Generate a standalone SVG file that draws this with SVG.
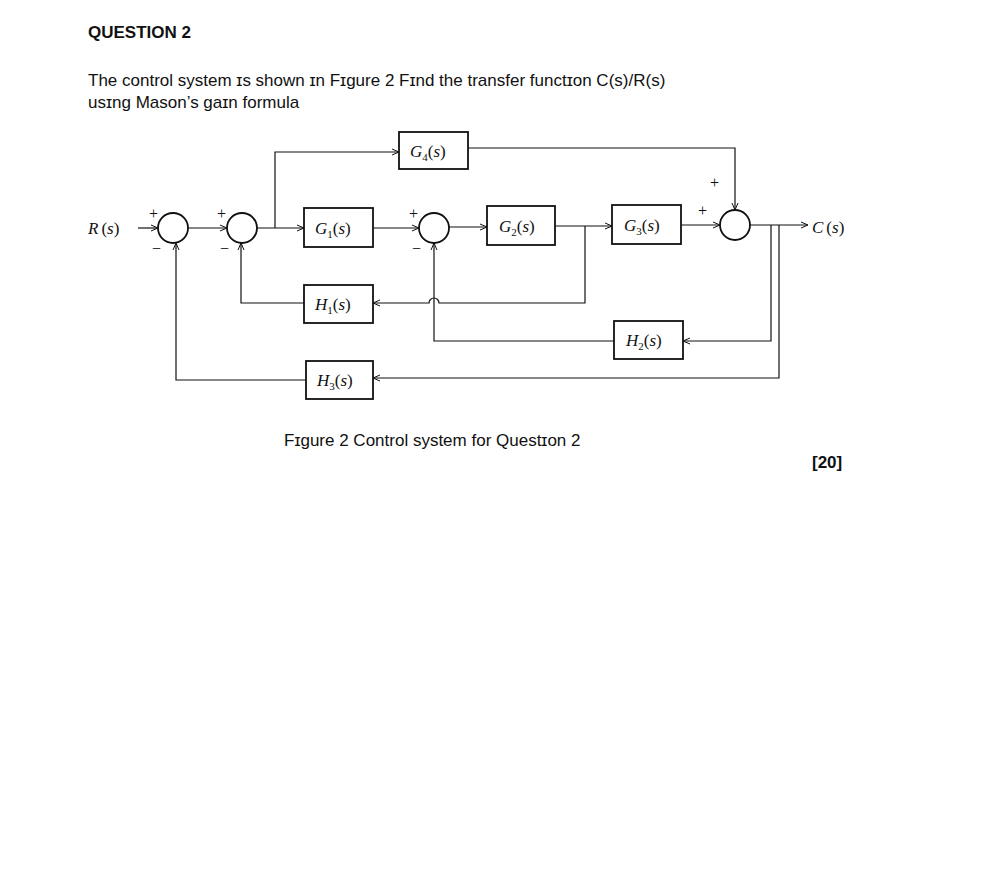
<svg xmlns="http://www.w3.org/2000/svg" width="991" height="869" viewBox="0 0 991 869">
<style>
.t{font-family:"Liberation Sans",Arial,sans-serif;font-size:17px;fill:#111}
.b{font-weight:bold;font-size:17px}
.m{font-family:"Liberation Serif","Times New Roman",serif;font-style:italic;font-size:17px;fill:#111}
.s{font-family:"Liberation Serif",serif;font-size:11px;font-style:normal}
.n{font-style:normal}
.box{fill:#fff;stroke:#111;stroke-width:1.8}
.sum{fill:#fff;stroke:#111;stroke-width:1.8}
.w{fill:none;stroke:#111;stroke-width:1.2}
.sg{font-family:"Liberation Serif",serif;font-size:16px;fill:#111}
</style>
<defs><marker id="a" markerWidth="8" markerHeight="8" refX="7" refY="4" orient="auto" markerUnits="userSpaceOnUse"><path d="M0,1 L7,4 L0,7" fill="none" stroke="#111" stroke-width="1"/></marker></defs>
<rect width="991" height="869" fill="#fff"/>
<text class="t b" x="88" y="38">QUESTION 2</text>
<text class="t" x="88" y="86">The control system ɪs shown ɪn Fɪgure 2  Fɪnd the transfer functɪon C(s)/R(s)</text>
<text class="t" x="88" y="108">usɪng Mason’s gaɪn formula</text>
<g id="connectors">
<path class="w" d="M138,228 H158" marker-end="url(#a)"/>
<path class="w" d="M188,228 H227" marker-end="url(#a)"/>
<path class="w" d="M257,228 H304" marker-end="url(#a)"/>
<path class="w" d="M275,228 V152 H399" marker-end="url(#a)"/>
<path class="w" d="M373,228 H419" marker-end="url(#a)"/>
<path class="w" d="M449,227 H487" marker-end="url(#a)"/>
<path class="w" d="M555,226 H612" marker-end="url(#a)"/>
<path class="w" d="M681,225 H720" marker-end="url(#a)"/>
<path class="w" d="M468,148 H735 V210" marker-end="url(#a)"/>
<path class="w" d="M750,225 H808" marker-end="url(#a)"/>
<path class="w" d="M585,226 V303 H439 A5,5 0 0 0 429,303 H373" marker-end="url(#a)"/>
<path class="w" d="M304,303 H241 V243" marker-end="url(#a)"/>
<path class="w" d="M771,225 V341 H683" marker-end="url(#a)"/>
<path class="w" d="M614,341 H434 V243" marker-end="url(#a)"/>
<path class="w" d="M779,225 V378 H373" marker-end="url(#a)"/>
<path class="w" d="M306,380 H176 V243" marker-end="url(#a)"/>
</g>
<g id="sum1"><circle class="sum" cx="173" cy="228" r="15"/><text class="sg" x="149" y="219">+</text><text class="sg" x="152" y="254">−</text></g>
<g id="sum2"><circle class="sum" cx="242" cy="228" r="15"/><text class="sg" x="217" y="219">+</text><text class="sg" x="220" y="254">−</text></g>
<g id="sum3"><circle class="sum" cx="434" cy="228" r="15"/><text class="sg" x="409" y="219">+</text><text class="sg" x="412" y="254">−</text></g>
<g id="sum4"><circle class="sum" cx="735" cy="225" r="15"/><text class="sg" x="710" y="188">+</text><text class="sg" x="698" y="216">+</text></g>
<text class="m" x="88" y="234">R<tspan class="n" dx="3">(</tspan>s<tspan class="n">)</tspan></text>
<text class="m" x="812" y="233">C<tspan class="n" dx="3">(</tspan>s<tspan class="n">)</tspan></text>
<g id="G4"><rect class="box" x="399" y="132" width="69" height="37"/><text class="m" x="410" y="157">G<tspan class="s" dy="4">4</tspan><tspan class="n" dy="-4">(</tspan>s<tspan class="n">)</tspan></text></g>
<g id="G1"><rect class="box" x="304" y="208" width="69" height="39"/><text class="m" x="315" y="234">G<tspan class="s" dy="4">1</tspan><tspan class="n" dy="-4">(</tspan>s<tspan class="n">)</tspan></text></g>
<g id="G2"><rect class="box" x="487" y="206" width="68" height="39"/><text class="m" x="499" y="232">G<tspan class="s" dy="4">2</tspan><tspan class="n" dy="-4">(</tspan>s<tspan class="n">)</tspan></text></g>
<g id="G3"><rect class="box" x="612" y="205" width="69" height="39"/><text class="m" x="624" y="231">G<tspan class="s" dy="4">3</tspan><tspan class="n" dy="-4">(</tspan>s<tspan class="n">)</tspan></text></g>
<g id="H1"><rect class="box" x="304" y="285" width="69" height="38"/><text class="m" x="315" y="310">H<tspan class="s" dy="4">1</tspan><tspan class="n" dy="-4">(</tspan>s<tspan class="n">)</tspan></text></g>
<g id="H2"><rect class="box" x="614" y="321" width="69" height="38"/><text class="m" x="626" y="346">H<tspan class="s" dy="4">2</tspan><tspan class="n" dy="-4">(</tspan>s<tspan class="n">)</tspan></text></g>
<g id="H3"><rect class="box" x="306" y="361" width="67" height="38"/><text class="m" x="317" y="386">H<tspan class="s" dy="4">3</tspan><tspan class="n" dy="-4">(</tspan>s<tspan class="n">)</tspan></text></g>
<text class="t" x="284" y="446">Fɪgure 2 Control system for Questɪon 2</text>
<text class="t b" x="812" y="468">[20]</text>
</svg>
